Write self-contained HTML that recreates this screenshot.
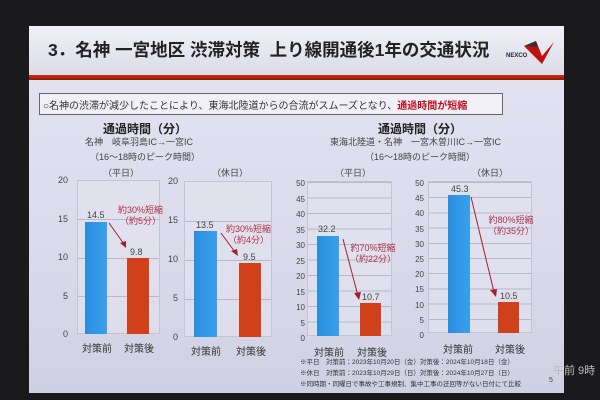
<!DOCTYPE html>
<html><head><meta charset="utf-8"><style>
*{margin:0;padding:0;box-sizing:border-box}
body{width:600px;height:400px;background:#1a1a1c;position:relative;overflow:hidden;font-family:"Liberation Sans","Noto Sans CJK JP",sans-serif}
.a{position:absolute;white-space:nowrap}
.slide{position:absolute;left:29px;top:26px;width:535px;height:367px;background:linear-gradient(180deg,#e4e4f2,#d8d8ea 70%,#cfd0e2)}
.band{position:absolute;left:29px;top:26px;width:535px;height:49px;background:linear-gradient(180deg,#f0f0f6,#dcdce8)}
.red{position:absolute;left:29px;top:75px;width:535px;height:5px;background:linear-gradient(180deg,#d03010,#8a1808)}
.box{position:absolute;left:39px;top:93px;width:464px;height:22px;border:1px solid #666;background:#f0f0f6}
.plot{position:absolute;border:1px solid #c4c4d4;background:rgba(230,230,240,.5)}
.g{position:absolute;left:0;right:0;height:1px;background:#b8b8c8}
.blue{position:absolute;background:linear-gradient(90deg,#2a8ee0,#3aa0ec)}
.or{position:absolute;background:#d0401a}
.t{font-size:9px;color:#444}
.ann{font-size:9px;color:#b03040;text-align:center;line-height:11px}
</style></head><body>
<div class="slide"></div><div class="band"></div><div class="red"></div>
<div class="a" style="left:48px;top:37px;font-size:17.5px;font-weight:bold;color:#222">3．名神 一宮地区 渋滞対策&nbsp; 上り線開通後1年の交通状況</div>
<div class="a" style="left:506px;top:53px;font-size:6px;font-weight:bold;color:#224">NEXCO</div>
<svg class="a" style="left:524px;top:38px" width="32" height="26"><path d="M0 8 L12 3 L18 18 L30 4 L18 26 Z" fill="#c01010"/><path d="M0 8 L12 3 L14 9Z" fill="#333"/></svg>
<div class="box"></div>
<div class="a" style="left:43px;top:97px;font-size:10px;color:#333">○名神の渋滞が減少したことにより、東海北陸道からの合流がスムーズとなり、<span style="color:#c01020;font-weight:bold">通過時間が短縮</span></div>

<div class="a" style="left:103px;top:120px;font-size:12px;font-weight:bold;color:#222">通過時間（分）</div>
<div class="a t" style="left:85px;top:135px">名神　岐阜羽島IC→一宮IC</div>
<div class="a t" style="left:90px;top:150px">（16～18時のピーク時間）</div>
<div class="a" style="left:378px;top:120px;font-size:12px;font-weight:bold;color:#222">通過時間（分）</div>
<div class="a t" style="left:330px;top:135px">東海北陸道・名神　一宮木曽川IC→一宮IC</div>
<div class="a t" style="left:365px;top:150px">（16～18時のピーク時間）</div>

<!-- chart1 -->
<div class="a t" style="left:103px;top:166px">（平日）</div>
<div class="plot" style="left:77px;top:180px;width:83px;height:154px"><div class="g" style="top:38px"></div><div class="g" style="top:77px"></div><div class="g" style="top:115px"></div></div>
<div class="a t" style="left:58px;top:175px">20</div><div class="a t" style="left:58px;top:214px">15</div><div class="a t" style="left:58px;top:252px">10</div><div class="a t" style="left:63px;top:291px">5</div><div class="a t" style="left:63px;top:329px">0</div>
<div class="blue" style="left:85px;top:222px;width:22px;height:112px"></div>
<div class="or" style="left:127px;top:258px;width:22px;height:76px"></div>
<div class="a t" style="left:87px;top:210px">14.5</div><div class="a t" style="left:130px;top:247px">9.8</div>
<div class="a ann" style="left:118px;top:205px">約30%短縮<br>（約5分）</div>
<svg class="a" style="left:108px;top:222px" width="20" height="28"><line x1="1" y1="1" x2="16" y2="22" stroke="#a02030" stroke-width="1"/><path d="M18 26 L12 21 L18 19Z" fill="#a02030"/></svg>
<div class="a" style="left:82px;top:340px;font-size:10px;color:#333">対策前</div><div class="a" style="left:124px;top:340px;font-size:10px;color:#333">対策後</div>

<!-- chart2 -->
<div class="a t" style="left:212px;top:166px">（休日）</div>
<div class="plot" style="left:184px;top:181px;width:88px;height:156px"><div class="g" style="top:39px"></div><div class="g" style="top:78px"></div><div class="g" style="top:117px"></div></div>
<div class="a t" style="left:168px;top:176px">20</div><div class="a t" style="left:168px;top:215px">15</div><div class="a t" style="left:168px;top:254px">10</div><div class="a t" style="left:173px;top:293px">5</div><div class="a t" style="left:173px;top:332px">0</div>
<div class="blue" style="left:194px;top:231px;width:23px;height:106px"></div>
<div class="or" style="left:239px;top:263px;width:22px;height:74px"></div>
<div class="a t" style="left:196px;top:220px">13.5</div><div class="a t" style="left:243px;top:252px">9.5</div>
<div class="a ann" style="left:226px;top:224px">約30%短縮<br>（約4分）</div>
<svg class="a" style="left:220px;top:232px" width="20" height="26"><line x1="1" y1="1" x2="15" y2="20" stroke="#a02030"/><path d="M18 24 L11 19 L17 17Z" fill="#a02030"/></svg>
<div class="a" style="left:191px;top:343px;font-size:10px;color:#333">対策前</div><div class="a" style="left:236px;top:343px;font-size:10px;color:#333">対策後</div>

<!-- chart3 -->
<div class="a t" style="left:335px;top:166px">（平日）</div>
<div class="plot" style="left:307px;top:181px;width:85px;height:155px;background:repeating-linear-gradient(180deg,#b8b8c8 0 1px,rgba(230,230,240,.5) 1px 15.5px)"></div>
<div class="blue" style="left:317px;top:236px;width:22px;height:100px"></div>
<div class="or" style="left:360px;top:303px;width:21px;height:33px"></div>
<div class="a t" style="left:318px;top:224px">32.2</div><div class="a t" style="left:362px;top:292px">10.7</div>
<div class="a ann" style="left:350px;top:243px">約70%短縮<br>（約22分）</div>
<svg class="a" style="left:342px;top:238px" width="20" height="64"><line x1="1" y1="1" x2="16" y2="58" stroke="#a02030"/><path d="M17 62 L12 55 L19 54Z" fill="#a02030"/></svg>
<div class="a" style="left:314px;top:344px;font-size:10px;color:#333">対策前</div><div class="a" style="left:357px;top:344px;font-size:10px;color:#333">対策後</div>

<!-- chart4 -->
<div class="a t" style="left:472px;top:166px">（休日）</div>
<div class="plot" style="left:428px;top:181px;width:104px;height:152px;background:repeating-linear-gradient(180deg,#b8b8c8 0 1px,rgba(230,230,240,.5) 1px 15.2px)"></div>
<div class="blue" style="left:448px;top:195px;width:22px;height:138px"></div>
<div class="or" style="left:498px;top:302px;width:21px;height:31px"></div>
<div class="a t" style="left:451px;top:184px">45.3</div><div class="a t" style="left:500px;top:291px">10.5</div>
<div class="a ann" style="left:488px;top:215px">約80%短縮<br>（約35分）</div>
<svg class="a" style="left:470px;top:196px" width="30" height="102"><line x1="1" y1="1" x2="24" y2="96" stroke="#a02030"/><path d="M26 101 L20 94 L27 93Z" fill="#a02030"/></svg>
<div class="a" style="left:443px;top:341px;font-size:10px;color:#333">対策前</div><div class="a" style="left:495px;top:341px;font-size:10px;color:#333">対策後</div>

<div class="a" style="left:290px;top:176px;font-size:8px;color:#444;line-height:15.5px;text-align:right;width:15px">50<br>45<br>40<br>35<br>30<br>25<br>20<br>15<br>10<br>5<br>0</div>
<div class="a" style="left:409px;top:176px;font-size:8px;color:#444;line-height:15.2px;text-align:right;width:15px">50<br>45<br>40<br>35<br>30<br>25<br>20<br>15<br>10<br>5<br>0</div>

<div class="a" style="left:300px;top:357px;font-size:6.5px;color:#333;line-height:11px">※平日　対策前：2023年10月20日（金）対策後：2024年10月18日（金）<br>※休日　対策前：2023年10月29日（日）対策後：2024年10月27日（日）<br>※同時期・同曜日で事故や工事規制、集中工事の迂回等がない日付にて比較</div>
<div class="a" style="left:549px;top:377px;font-size:7px;color:#444">5</div>
<div class="a" style="left:553px;top:362px;font-size:11px;color:#bbb">午前 9時</div>
</body></html>
